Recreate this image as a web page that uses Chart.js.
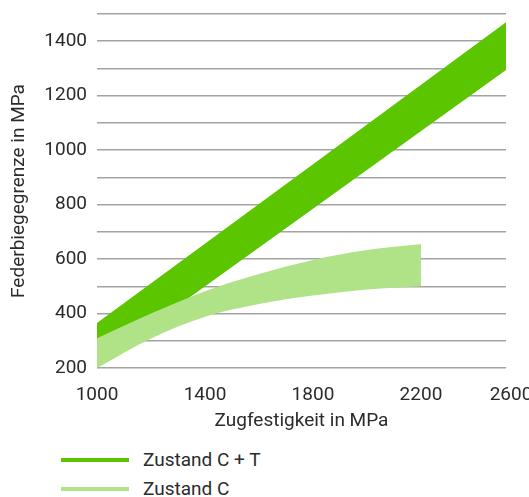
<!DOCTYPE html>
<html>
<head>
<meta charset="utf-8">
<script src="https://cdn.jsdelivr.net/npm/chart.js@4.4.1/dist/chart.umd.min.js"></script>
<style>
body { margin: 0; background: #fff; font-family: Roboto, sans-serif; }
#wrap { position: relative; width: 529px; height: 497px; }
#legend { position: absolute; left: 61px; top: 445px; }
.row { display: flex; align-items: center; height: 29px; font-size: 19px; color: #2b2b2b; }
.swatch { width: 68px; height: 4px; margin-right: 14px; }
</style>
</head>
<body>
<div id="wrap">
  <canvas id="canvas" width="529" height="437"></canvas>
  <div id="legend"></div>
</div>
<script>
// data (MPa)
var seriesNames = ['Zustand C + T', 'Zustand C'];
var seriesColors = ['#5bc500', '#b0e287'];

// Zustand C + T band
var darkX = [1000, 2515];
var darkTop = [365, 1470];
var darkBottom = [215, 1294];

// Zustand C band
var lightX = [1000, 1200, 1400, 1600, 1800, 2000, 2200];
var lightTop = [309, 400, 482, 545, 597, 633, 655];
var lightBottom = [200, 308, 388, 435, 466, 488, 500];

var xTicks = [1000, 1400, 1800, 2200, 2600];
var yLabelStep = 200;

function pts(xs, ys) {
    var out = [];
    for (var i = 0; i < xs.length; i++) {
        out.push({x: xs[i], y: ys[i]});
    }
    return out;
}

function band(xs, ys, color, fill, order) {
    return {
        data: pts(xs, ys),
        borderWidth: 0,
        pointRadius: 0,
        borderColor: color,
        backgroundColor: color,
        fill: fill,
        tension: 0.4,
        cubicInterpolationMode: 'monotone',
        order: order
    };
}

var fontFamily = 'Roboto, sans-serif';
var textColor = '#2b2b2b';

var config = {
    type: 'line',
    data: {
        datasets: [
            band(lightX, lightTop, seriesColors[1], '+1', 0),
            band(lightX, lightBottom, seriesColors[1], false, 1),
            band(darkX, darkTop, seriesColors[0], '+1', 2),
            band(darkX, darkBottom, seriesColors[0], false, 3)
        ]
    },
    options: {
        responsive: false,
        animation: false,
        layout: { padding: { top: 14, right: 23, left: 0, bottom: 0 } },
        plugins: {
            legend: { display: false },
            tooltip: { enabled: false }
        },
        scales: {
            x: {
                type: 'linear',
                min: 1000,
                max: 2515,
                grid: { display: false },
                border: { display: false },
                ticks: {
                    includeBounds: false,
                    autoSkip: false,
                    maxRotation: 0,
                    padding: 8,
                    color: textColor,
                    font: { family: fontFamily, size: 19 },
                    callback: function (v) {
                        // last label sits against the right edge
                        return v === 2600 ? v + '\u2007\u2007\u2007\u2009' : v;
                    }
                },
                title: {
                    display: true,
                    text: 'Zugfestigkeit in MPa',
                    color: textColor,
                    font: { family: fontFamily, size: 19 },
                    padding: { top: 4, bottom: 4 }
                },
                afterBuildTicks: function (scale) {
                    scale.ticks = xTicks.map(function (v) { return {value: v}; });
                },
                afterFit: function (scale) {
                    scale.paddingRight = 0;
                    scale.paddingLeft = 0;
                    scale.height = 69;
                }
            },
            y: {
                min: 200,
                max: 1500,
                grid: { color: '#a3a3a3', lineWidth: 1.5, drawTicks: false },
                border: { display: false },
                ticks: {
                    stepSize: 100,
                    autoSkip: false,
                    padding: 10,
                    color: textColor,
                    font: { family: fontFamily, size: 19 },
                    callback: function (v) {
                        return v % yLabelStep === 0 ? v : '';
                    }
                },
                title: {
                    display: true,
                    text: 'Federbiegegrenze in MPa',
                    color: textColor,
                    font: { family: fontFamily, size: 19 },
                    padding: { top: 8, bottom: 0 }
                },
                afterFit: function (scale) {
                    scale.width = 97;
                    scale.paddingTop = 0;
                    scale.paddingBottom = 0;
                }
            }
        }
    }
};

window.onload = function () {
    var ctx = document.getElementById('canvas').getContext('2d');
    window.myLine = new Chart(ctx, config);

    //legend below the chart
    var html = '';
    for (var i = 0; i < seriesNames.length; i++) {
        html += '<div class="row"><span class="swatch" style="background:' + seriesColors[i] + '"></span>' + seriesNames[i] + '</div>';
    }
    document.getElementById('legend').innerHTML = html;
};
</script>
</body>
</html>
